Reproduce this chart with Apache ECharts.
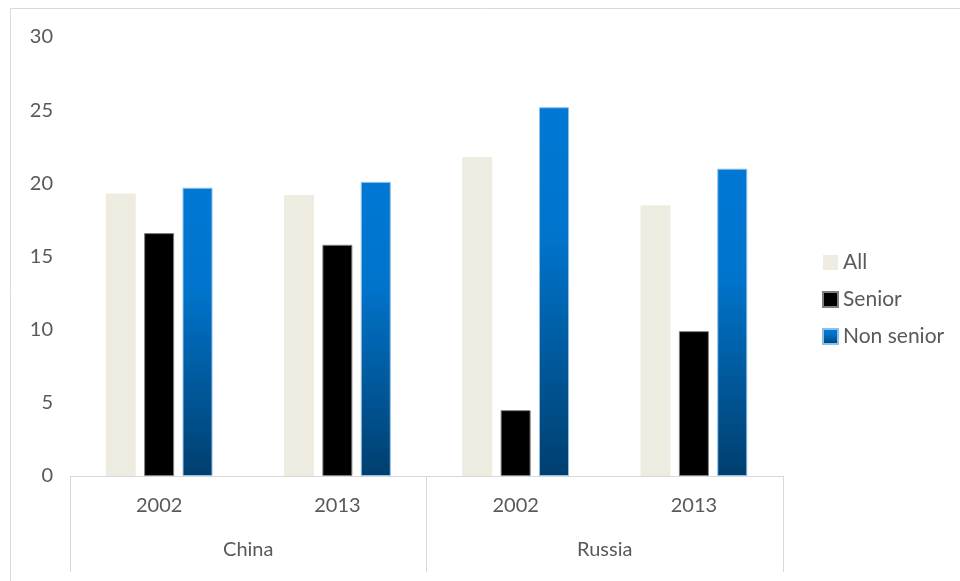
<!DOCTYPE html>
<html>
<head>
<meta charset="utf-8">
<script src="https://cdn.jsdelivr.net/npm/echarts@6/dist/echarts.min.js"></script>
<style>
  html, body { margin: 0; padding: 0; background: #fff; }
  #chart { width: 960px; height: 581px; }
</style>
</head>
<body>
<div id="chart"></div>
<script>
const years = ['2002', '2013', '2002', '2013']
const countries = ['China', 'Russia']
const allValues = [19.3, 19.2, 21.8, 18.5]
const seniorValues = [16.6, 15.8, 4.5, 9.9]
const nonSeniorValues = [19.7, 20.1, 25.2, 21.0]

const textColor = '#595959'
const lineColor = '#d9d9d9'
const font = 'Lato, "Open Sans", sans-serif'

const blueFill = new echarts.graphic.LinearGradient(0, 0, 0, 1, [
  { offset: 0, color: '#0078d4' },
  { offset: 0.35, color: '#0074cc' },
  { offset: 1, color: '#003f6e' }
])

const chart = echarts.init(document.getElementById('chart'))

chart.setOption({
  animation: false,
  textStyle: { fontFamily: font },
  graphic: [
    {
      type: 'rect',
      shape: { x: 10.5, y: 8.5, width: 980, height: 620 },
      style: { fill: 'none', stroke: lineColor, lineWidth: 1 },
      silent: true
    }
  ],
  legend: {
    orient: 'vertical',
    left: 817,
    top: 247,
    itemWidth: 15,
    itemHeight: 15,
    itemGap: 16,
    icon: 'rect',
    textStyle: { color: textColor, fontSize: 21, fontFamily: font },
    data: ['All', 'Senior', 'Non senior']
  },
  grid: { left: 70, right: 177, top: 37, bottom: 105 },
  xAxis: [
    {
      type: 'category',
      data: years,
      axisLine: { show: true, lineStyle: { color: lineColor } },
      axisTick: { show: false },
      axisLabel: { color: textColor, fontSize: 20, margin: 20 }
    },
    {
      type: 'category',
      data: countries,
      position: 'bottom',
      axisLine: { show: false },
      axisTick: { show: true, length: 96, lineStyle: { color: lineColor } },
      axisLabel: { color: textColor, fontSize: 20, margin: 64 }
    }
  ],
  yAxis: {
    type: 'value',
    min: 0,
    max: 30,
    interval: 5,
    axisLine: { show: false },
    axisTick: { show: false },
    splitLine: { show: false },
    axisLabel: { color: textColor, fontSize: 20, margin: 17 }
  },
  series: [
    {
      name: 'All',
      type: 'bar',
      data: allValues,
      barWidth: 30,
      barGap: '28%',
      itemStyle: { color: '#eeece1' }
    },
    {
      name: 'Senior',
      type: 'bar',
      data: seniorValues,
      barWidth: 30,
      itemStyle: { color: '#000000', borderColor: '#7f7f7f', borderWidth: 1 }
    },
    {
      name: 'Non senior',
      type: 'bar',
      data: nonSeniorValues,
      barWidth: 30,
      itemStyle: { color: blueFill, borderColor: '#8fc0ea', borderWidth: 1 }
    }
  ]
})

window.addEventListener('resize', () => chart.resize())
</script>
</body>
</html>
